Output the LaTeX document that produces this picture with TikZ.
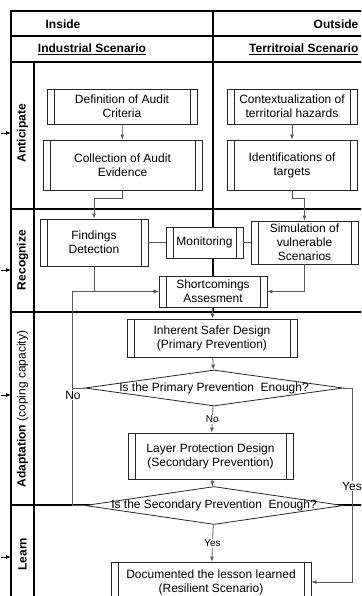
\documentclass[tikz,border=0pt]{standalone}
\usepackage{fontspec}
\setmainfont{Liberation Sans}
\usetikzlibrary{arrows.meta,shapes.geometric}
\begin{document}
\begin{tikzpicture}[x=1pt,y=-1pt,
  frame/.style={draw=black, line width=1.1pt},
  proc/.style={draw=black!85, line width=0.8pt, fill=white, inner sep=0pt, align=center,
    font=\fontsize{12}{14}\selectfont,
    path picture={\draw[black!85, line width=0.8pt]
      ([xshift=7pt]path picture bounding box.north west) -- ([xshift=7pt]path picture bounding box.south west)
      ([xshift=-7pt]path picture bounding box.north east) -- ([xshift=-7pt]path picture bounding box.south east);}},
  dia/.style={draw=black!85, line width=0.8pt, fill=white, shape=diamond, inner sep=0pt,
    minimum width=258pt},
  conn/.style={draw=black!65, line width=0.8pt},
  arr/.style={conn, -{Latex[length=5pt,width=4pt]}},
  sidearr/.style={draw=black, line width=0.8pt, -{Latex[length=5pt,width=4pt]}},
  lbl/.style={font=\fontsize{10}{12}\selectfont, fill=white, inner sep=1pt},
  biglbl/.style={font=\fontsize{12}{14}\selectfont, fill=white, inner sep=1pt},
  lane/.style={rotate=90, font=\fontsize{12}{14}\selectfont\bfseries},
  head/.style={font=\fontsize{12}{14}\selectfont\bfseries, inner sep=0pt}
]
\fill[white] (0,0) rectangle (361,596);
\useasboundingbox (0,0) rectangle (361,596);
\clip (0,0) rectangle (361,596);

% frame
\draw[frame] (365,11) -- (11,11) -- (11,600);
\foreach \yy in {36,62,209,312,505} \draw[frame] (11,\yy) -- (365,\yy);
\draw[frame] (34,62) -- (34,600);
\draw[frame] (213,11) -- (213,312);

% headers
\node[head] (hin) at (63,24) {Inside};
\node[head] (hout) at (336,24) {Outside};
\node[head] (hind) at (92,49) {\underline{Industrial Scenario}};
\node[head, anchor=west] (hter) at (249,49) {\underline{Territroial Scenario}};

% lane labels
\node[lane] (l1) at (22.5,133) {Anticipate};
\node[lane] (l2) at (22.5,260) {Recognize};
\node[lane] (l3) at (22.5,409) {Adaptation \mdseries(coping capacity)};
\node[lane] (l4) at (22.5,554) {Learn};

% side arrows
\coordinate (s1a) at (1,133); \coordinate (s1b) at (11,133);
\coordinate (s2a) at (1,270); \coordinate (s2b) at (11,270);
\coordinate (s3a) at (1,395); \coordinate (s3b) at (11,395);
\coordinate (s4a) at (1,557); \coordinate (s4b) at (11,557);
\draw[sidearr] (s1a) -- (s1b);
\draw[sidearr] (s2a) -- (s2b);
\draw[sidearr] (s3a) -- (s3b);
\draw[sidearr] (s4a) -- (s4b);

% process boxes
\node[proc, minimum width=150pt, minimum height=35pt] (def) at (122,106.5) {Definition of Audit\\Criteria};
\node[proc, minimum width=159pt, minimum height=50pt] (coll) at (122.5,165) {Collection of Audit\\Evidence};
\node[proc, minimum width=130pt, minimum height=35pt] (ctx) at (292,106.5) {Contextualization of\\territorial hazards};
\node[proc, minimum width=130pt, minimum height=50pt] (ident) at (292,165) {Identifications of\\targets};
\node[proc, minimum width=108pt, minimum height=47pt] (find) at (94,242.5) {Findings\\Detection};
\node[proc, minimum width=77pt, minimum height=31pt] (mon) at (204.5,242.5) {Monitoring};
\node[proc, minimum width=107pt, minimum height=43pt] (sim) at (304.5,242.5) {Simulation of\\vulnerable\\Scenarios};
\node[proc, minimum width=108pt, minimum height=31pt] (short) at (213,291.5) {Shortcomings\\Assesment};
\node[proc, minimum width=170pt, minimum height=38pt] (inh) at (212,338) {Inherent Safer Design\\(Primary Prevention)};
\node[dia, minimum height=36pt, label={[font=\fontsize{12}{14}\selectfont]center:Is the Primary Prevention\ \ Enough?}] (d1) at (214,388) {};
\node[proc, minimum width=165pt, minimum height=46pt] (layer) at (210.5,456) {Layer Protection Design\\(Secondary Prevention)};
\node[dia, minimum height=38pt, label={[font=\fontsize{12}{14}\selectfont]center:Is the Secondary Prevention\ \ Enough?}] (d2) at (214,505.5) {};
\node[proc, minimum width=200pt, minimum height=40pt] (doc) at (211,582) {Documented the lesson learned\\(Resilient Scenario)};

% connectors
\draw[arr] (def) -- (coll);
\draw[arr] (ctx) -- (ident);
\draw[arr] (coll.south) -- ++(0,8) -| (find.north);
\draw[arr] (ident.south) -- ++(0,8) -| (sim.north);
\draw[conn] (find) -- (mon);
\draw[conn] (mon) -- (sim);
\draw[arr] (find.south) |- (short.west);
\draw[arr] (sim.south) |- (short.east);
\draw[arr] (short) -- (inh);
\draw[arr] (inh) -- (d1);
\draw[arr] (d1) -- node[lbl] (no2) {No} (layer);
\draw[arr] (layer) -- (d2);
\draw[arr] (d2) -- node[lbl] (yes2) {Yes} (doc);
\coordinate (nl1) at (72,388);
\coordinate (nl2) at (72,505.5);
\draw[conn] (d1.west) -- (nl1);
\draw[conn] (d2.west) -- (nl2) -- (nl1);
\draw[arr] (nl1) |- (short.west);
\node[biglbl] (no1) at (73,395) {No};
\coordinate (yr1) at (352,388);
\draw[arr] (d1.east) -- (yr1) |- (doc.east);
\node[biglbl] (yes1) at (352,486) {Yes};
\end{tikzpicture}
\end{document}
